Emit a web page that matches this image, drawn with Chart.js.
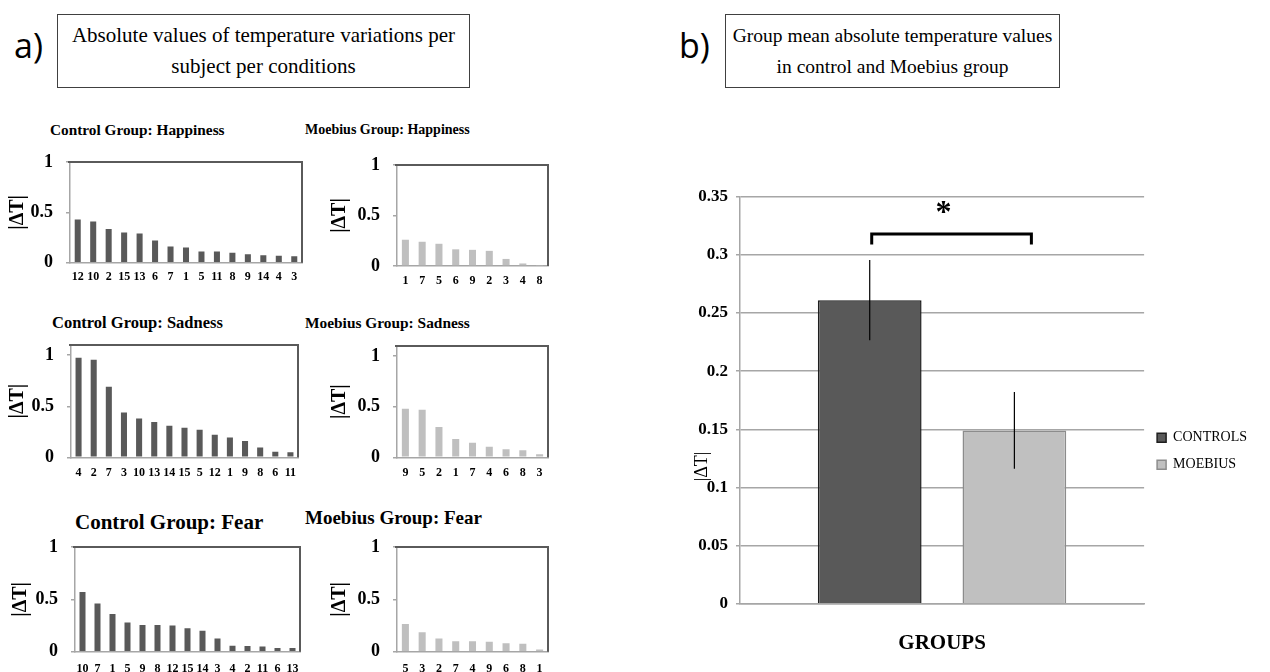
<!DOCTYPE html>
<html>
<head>
<meta charset="utf-8">
<script src="https://cdn.jsdelivr.net/npm/chart.js@4.4.1/dist/chart.umd.min.js"></script>
<style>
  body { margin: 0; width: 1270px; height: 672px; background: #fff; position: relative; overflow: hidden; font-family: "Liberation Serif", serif; color: #000; }
  .abs { position: absolute; white-space: nowrap; }
  .tag { font-family: "Open Sans", sans-serif; font-size: 34px; line-height: 40px; }
  .box { border: 1px solid #404040; box-sizing: border-box; text-align: center; line-height: 31px; padding-top: 5px; }
  .st { font-weight: bold; line-height: 20px; }
  canvas { position: absolute; }
</style>
</head>
<body>
<div class="abs tag" style="left:14px;top:25px">a)</div>
<div class="abs box" style="left:57px;top:14px;width:413px;height:74px;font-size:21px">Absolute values of temperature variations per<br>subject per conditions</div>
<div class="abs tag" style="left:679px;top:25px">b)</div>
<div class="abs box" style="left:725px;top:14px;width:335px;height:74px;font-size:19.5px">Group mean absolute temperature values<br>in control and Moebius group</div>

<div class="abs st" style="left:50px;top:120px;font-size:15.3px">Control Group: Happiness</div>
<div class="abs st" style="left:305px;top:120px;font-size:14px">Moebius Group: Happiness</div>
<div class="abs st" style="left:52px;top:313px;font-size:16.5px">Control Group: Sadness</div>
<div class="abs st" style="left:305px;top:313px;font-size:15.4px">Moebius Group: Sadness</div>
<div class="abs st" style="left:75px;top:512px;font-size:21px">Control Group: Fear</div>
<div class="abs st" style="left:305px;top:508px;font-size:19px">Moebius Group: Fear</div>

<canvas id="ch" width="305" height="140" style="left:0px;top:150px"></canvas>
<canvas id="mh" width="230" height="140" style="left:321px;top:150px"></canvas>
<canvas id="cs" width="301" height="150" style="left:0px;top:333px"></canvas>
<canvas id="ms" width="230" height="150" style="left:321px;top:333px"></canvas>
<canvas id="cf" width="303" height="137" style="left:0px;top:535px"></canvas>
<canvas id="mf" width="230" height="137" style="left:321px;top:535px"></canvas>
<canvas id="groups" width="615" height="487" style="left:655px;top:185px"></canvas>

<script>
// subjects sorted by |dT|, per group and condition
const chLabels = ['12', '10', '2', '15', '13', '6', '7', '1', '5', '11', '8', '9', '14', '4', '3'];
const chValues = [0.43, 0.41, 0.335, 0.30, 0.29, 0.22, 0.16, 0.15, 0.11, 0.11, 0.10, 0.085, 0.075, 0.07, 0.065];
const mhLabels = ['1', '7', '5', '6', '9', '2', '3', '4', '8'];
const mhValues = [0.26, 0.24, 0.22, 0.165, 0.16, 0.15, 0.07, 0.025, 0.004];
const csLabels = ['4', '2', '7', '3', '10', '13', '14', '15', '5', '12', '1', '9', '8', '6', '11'];
const csValues = [0.975, 0.955, 0.69, 0.44, 0.38, 0.345, 0.31, 0.29, 0.27, 0.22, 0.195, 0.16, 0.095, 0.055, 0.05];
const msLabels = ['9', '5', '2', '1', '7', '4', '6', '8', '3'];
const msValues = [0.48, 0.47, 0.30, 0.18, 0.145, 0.105, 0.08, 0.07, 0.03];
const cfLabels = ['10', '7', '1', '5', '9', '8', '12', '15', '14', '3', '4', '2', '11', '6', '13'];
const cfValues = [0.57, 0.46, 0.36, 0.28, 0.255, 0.255, 0.25, 0.225, 0.20, 0.125, 0.057, 0.055, 0.05, 0.035, 0.035];
const mfLabels = ['5', '3', '2', '7', '4', '9', '6', '8', '1'];
const mfValues = [0.265, 0.185, 0.127, 0.10, 0.10, 0.095, 0.08, 0.075, 0.02];
const smallTicks = [0, 0.5, 1];

// group means (panel b)
const groupNames = ['CONTROLS', 'MOEBIUS'];
const groupMeans = [0.261, 0.149];
const groupErrors = [0.0345, 0.033];
const bigTicks = [0, 0.05, 0.1, 0.15, 0.2, 0.25, 0.3, 0.35];
const sigLevel = [0.318, 0.309];

const SERIF = '"Liberation Serif", "Times New Roman", serif';
const DARK = '#595959';
const LIGHT = '#bfbfbf';
const AXIS = '#a6a6a6';

// keep the plot area exactly where layout padding puts it
const noPadY = s => { s.paddingTop = 0; s.paddingBottom = 0; };
const noPadX = s => { s.paddingLeft = 0; s.paddingRight = 0; };

const frame = {
  id: 'frame',
  afterDraw(chart) {
    const a = chart.chartArea, ctx = chart.ctx;
    ctx.save();
    ctx.strokeStyle = '#5a5a5a';
    ctx.lineWidth = 2;
    ctx.beginPath();
    ctx.moveTo(a.left - 2, a.top);
    ctx.lineTo(a.right, a.top);
    ctx.lineTo(a.right, a.bottom);
    ctx.stroke();
    ctx.restore();
  }
};

function smallChart(id, labels, values, color, pct, yMax, lay) {
  new Chart(document.getElementById(id), {
    type: 'bar',
    data: {
      labels: labels,
      datasets: [{ data: values, backgroundColor: color, categoryPercentage: 1, barPercentage: pct }]
    },
    options: {
      responsive: false,
      animation: false,
      layout: { padding: { top: lay.top, right: 3, left: 0, bottom: 0 } },
      plugins: { legend: { display: false }, tooltip: { enabled: false } },
      scales: {
        x: {
          grid: { display: false, drawTicks: false },
          border: { color: AXIS, width: 1.5 },
          ticks: { color: '#000', font: { family: SERIF, weight: 'bold', size: 12 }, padding: lay.xpad, maxRotation: 0, autoSkip: false },
          afterFit: s => { s.height = lay.xh; noPadX(s); }
        },
        y: {
          min: 0,
          max: yMax,
          afterBuildTicks: s => { s.ticks = smallTicks.map(v => ({ value: v })); },
          grid: { drawOnChartArea: false, tickLength: 4, color: AXIS, lineWidth: 1.5 },
          border: { color: AXIS, width: 1.5 },
          ticks: { color: '#000', font: { family: SERIF, weight: 'bold', size: 18 }, padding: 13, callback: v => String(v) },
          title: { display: true, text: '|ΔT|', color: '#000', font: { family: SERIF, weight: 'bold', size: 20 }, padding: { top: lay.tpad, bottom: 0 } },
          afterFit: s => { s.width = lay.yw; noPadY(s); }
        }
      }
    },
    plugins: [frame]
  });
}

smallChart('ch', chLabels, chValues, DARK, 0.39, 1, { top: 12, xh: 27.3, xpad: 7, yw: 70, tpad: 6 });
smallChart('mh', mhLabels, mhValues, LIGHT, 0.42, 1, { top: 15, xh: 24, xpad: 8, yw: 76, tpad: 7 });
smallChart('cs', csLabels, csValues, DARK, 0.4, 1.1, { top: 12, xh: 25.7, xpad: 8, yw: 71, tpad: 6 });
smallChart('ms', msLabels, msValues, LIGHT, 0.42, 1.1, { top: 13, xh: 25.7, xpad: 8, yw: 76, tpad: 7 });
smallChart('cf', cfLabels, cfValues, DARK, 0.4, 1, { top: 12, xh: 20.3, xpad: 10, yw: 75, tpad: 9 });
smallChart('mf', mfLabels, mfValues, LIGHT, 0.42, 1, { top: 12, xh: 20.3, xpad: 10, yw: 76, tpad: 7 });

// error bars, significance bracket and the |dT| label for panel b
const extras = {
  id: 'extras',
  afterDatasetsDraw(chart) {
    const ctx = chart.ctx, y = chart.scales.y;
    const xs = chart.data.datasets.map((d, i) => chart.getDatasetMeta(i).data[0].x);
    ctx.save();
    ctx.strokeStyle = '#000';
    ctx.lineWidth = 1.2;
    xs.forEach((x, i) => {
      ctx.beginPath();
      ctx.moveTo(x, y.getPixelForValue(groupMeans[i] + groupErrors[i]));
      ctx.lineTo(x, y.getPixelForValue(groupMeans[i] - groupErrors[i]));
      ctx.stroke();
    });
    const x0 = xs[0] + 2, x1 = xs[1] + 17;
    const top = y.getPixelForValue(sigLevel[0]), drop = y.getPixelForValue(sigLevel[1]);
    ctx.lineWidth = 3;
    ctx.beginPath();
    ctx.moveTo(x0, drop);
    ctx.lineTo(x0, top);
    ctx.lineTo(x1, top);
    ctx.lineTo(x1, drop);
    ctx.stroke();
    ctx.fillStyle = '#000';
    ctx.font = 'bold 32px ' + SERIF;
    ctx.textAlign = 'center';
    ctx.textBaseline = 'middle';
    ctx.fillText('*', (x0 + x1) / 2 - 8, top - 20);

    ctx.font = '18px ' + SERIF;
    ctx.translate(y.left + 47, y.getPixelForValue(0.118));
    ctx.rotate(-Math.PI / 2);
    ctx.fillText('|ΔT|', 0, 0);
    ctx.restore();
  }
};

new Chart(document.getElementById('groups'), {
  type: 'bar',
  data: {
    labels: [''],
    datasets: [
      { label: groupNames[0], data: [groupMeans[0]], backgroundColor: DARK, borderColor: '#1e1e1e', borderWidth: 1.5 },
      { label: groupNames[1], data: [groupMeans[1]], backgroundColor: '#c0c0c0', borderColor: '#8c8c8c', borderWidth: 1.5 }
    ]
  },
  options: {
    responsive: false,
    animation: false,
    categoryPercentage: 0.716,
    barPercentage: 0.717,
    layout: { padding: { top: 11.7, right: 13, left: 0, bottom: 0 } },
    plugins: {
      tooltip: { enabled: false },
      legend: {
        position: 'right',
        fullSize: false,
        title: { display: true, text: ' ', font: { size: 10 }, padding: { top: 90, bottom: 0 } },
        labels: { color: '#000', font: { family: SERIF, size: 14 }, boxWidth: 9, boxHeight: 9, padding: 13 }
      }
    },
    scales: {
      x: {
        grid: { display: false, drawTicks: false },
        border: { color: AXIS, width: 1.5 },
        ticks: { display: false },
        title: { display: true, text: 'GROUPS', color: '#000', font: { family: SERIF, weight: 'bold', size: 21 }, padding: { top: 0, bottom: 16 } },
        afterFit: s => { s.height = 68.3; noPadX(s); }
      },
      y: {
        min: 0,
        max: 0.35,
        afterBuildTicks: s => { s.ticks = bigTicks.map(v => ({ value: v })); },
        grid: { color: AXIS, lineWidth: 1.5, tickLength: 4 },
        border: { color: AXIS, width: 1.5 },
        ticks: { color: '#000', font: { family: SERIF, weight: 'bold', size: 17 }, padding: 8, callback: v => String(+v.toFixed(2)) },
        afterFit: s => { s.width = 85; noPadY(s); }
      }
    }
  },
  plugins: [extras]
});
</script>
</body>
</html>
